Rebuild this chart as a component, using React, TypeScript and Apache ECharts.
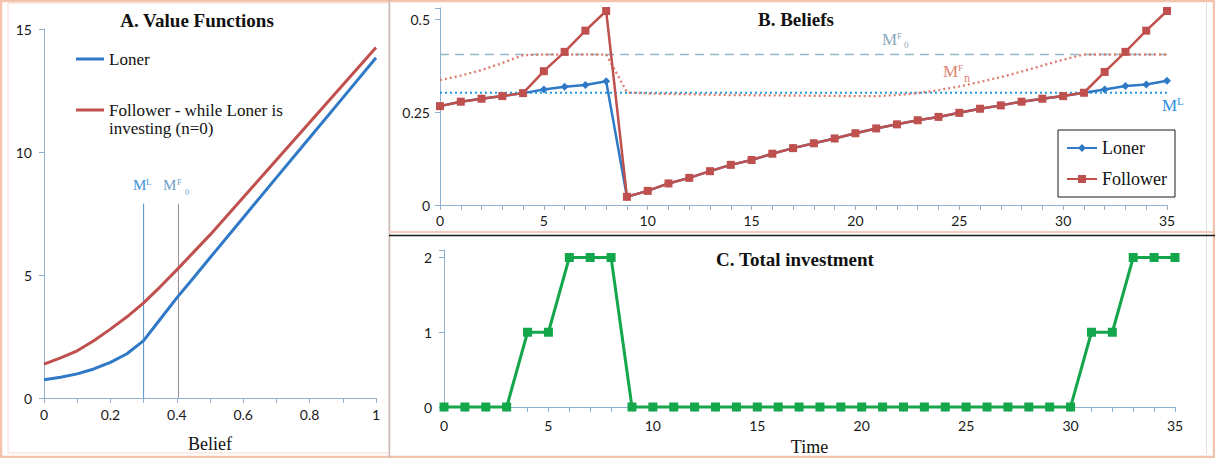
import React, { useEffect, useRef } from "react";
import * as echarts from "echarts";

// ---------- Panel A: value functions ----------
const beliefGrid = [0, 0.05, 0.1, 0.15, 0.2, 0.25, 0.3, 0.35, 0.4, 0.45, 0.5, 0.6, 0.7, 0.8, 0.9, 1];
const lonerValue = [0.74, 0.84, 0.98, 1.18, 1.45, 1.8, 2.33, 3.2, 4.07, 4.88, 5.7, 7.33, 8.96, 10.58, 12.2, 13.83];
const followerValue = [1.38, 1.63, 1.92, 2.33, 2.8, 3.3, 3.87, 4.52, 5.21, 5.92, 6.63, 8.15, 9.67, 11.2, 12.72, 14.25];
const thresholdML = 0.3;
const thresholdMF0 = 0.405;
const thresholdLineTop = 7.9;

// ---------- Panel B: beliefs ----------
const timeSteps = [0, 1, 2, 3, 4, 5, 6, 7, 8, 9, 10, 11, 12, 13, 14, 15, 16, 17, 18, 19, 20, 21, 22, 23, 24, 25, 26, 27, 28, 29, 30, 31, 32, 33, 34, 35];
const lonerBelief = [0.266, 0.278, 0.286, 0.293, 0.301, 0.311, 0.318, 0.323, 0.333, 0.022, 0.038, 0.058, 0.073, 0.091, 0.108, 0.121, 0.138, 0.153, 0.166, 0.179, 0.193, 0.206, 0.217, 0.228, 0.237, 0.248, 0.259, 0.268, 0.278, 0.286, 0.293, 0.302, 0.311, 0.32, 0.324, 0.334];
const followerBelief = [0.266, 0.278, 0.286, 0.293, 0.301, 0.36, 0.412, 0.469, 0.522, 0.022, 0.038, 0.058, 0.073, 0.091, 0.108, 0.121, 0.138, 0.153, 0.166, 0.179, 0.193, 0.206, 0.217, 0.228, 0.237, 0.248, 0.259, 0.268, 0.278, 0.286, 0.293, 0.302, 0.358, 0.412, 0.469, 0.522];
const levelMF0 = 0.405;
const levelML = 0.302;
const mfnTime = [0, 1, 2, 3, 4, 5, 6, 7, 8, 8.5, 9, 10, 12, 14, 16, 18, 20, 21, 22, 23, 24, 25, 26, 27, 28, 29, 30, 31, 32, 33, 34, 35];
const mfnValue = [0.336, 0.348, 0.363, 0.382, 0.403, 0.405, 0.405, 0.405, 0.405, 0.355, 0.303, 0.3, 0.298, 0.296, 0.295, 0.294, 0.293, 0.293, 0.296, 0.301, 0.309, 0.319, 0.331, 0.344, 0.359, 0.375, 0.391, 0.405, 0.405, 0.405, 0.405, 0.405];
const beliefTickLabels = [0, 0.25, 0.5];

// ---------- Panel C: total investment ----------
const totalInvestment = [0, 0, 0, 0, 1, 1, 2, 2, 2, 0, 0, 0, 0, 0, 0, 0, 0, 0, 0, 0, 0, 0, 0, 0, 0, 0, 0, 0, 0, 0, 0, 1, 1, 2, 2, 2];

const serif = '"Liberation Serif", "Times New Roman", serif';
const sans = 'Lato, "Noto Sans", sans-serif';
const BLUE = "#2f79c6";
const RED = "#c0504d";
const GREEN = "#13a64b";
const AXIS = "#8fb0cf";

const axisBase = (gridIndex: number) => ({
  gridIndex,
  type: "value" as const,
  splitLine: { show: false },
  axisLine: { show: true, onZero: false, lineStyle: { color: AXIS, width: 1 } },
  axisTick: { show: true, length: 5, lineStyle: { color: AXIS } },
  axisLabel: { color: "#1a1a1a", fontFamily: sans, fontSize: 14, margin: 9 },
});

function txt(text: string, x: number, y: number, size: number, color: string, extra: any = {}) {
  return {
    type: "text",
    x,
    y,
    silent: true,
    style: { text, fontSize: size, fontFamily: serif, fill: color, verticalAlign: "middle", ...extra },
  };
}

export default function App() {
  const ref = useRef<HTMLDivElement>(null);
  useEffect(() => {
    if (!ref.current) return;
    const chart = echarts.init(ref.current, undefined, { renderer: "svg" });
    const pairs = (xs: number[], ys: number[]) => xs.map((x, i) => [x, ys[i]]);

    chart.setOption({
      animation: false,
      backgroundColor: "#ffffff",
      grid: [
        { left: 44, top: 29, width: 332, height: 372 },
        { left: 440, top: 8, width: 727, height: 197 },
        { left: 444, top: 250, width: 731, height: 157 },
      ],
      xAxis: [
        {
          ...axisBase(0),
          min: 0,
          max: 1,
          interval: 0.1,
          axisLabel: {
            ...axisBase(0).axisLabel,
            formatter: (v: number) => (Math.round(v * 10) % 2 === 0 ? String(Math.round(v * 10) / 10) : ""),
          },
          name: "Belief",
          nameLocation: "middle",
          nameGap: 37,
          nameTextStyle: { fontFamily: serif, fontSize: 18, color: "#111" },
        },
        {
          ...axisBase(1),
          min: 0,
          max: 35,
          interval: 1,
          axisLabel: { ...axisBase(1).axisLabel, margin: 8, formatter: (v: number) => (v % 5 === 0 ? String(v) : "") },
        },
        {
          ...axisBase(2),
          min: 0,
          max: 35,
          interval: 1,
          axisLabel: { ...axisBase(2).axisLabel, margin: 11, formatter: (v: number) => (v % 5 === 0 ? String(v) : "") },
          name: "Time",
          nameLocation: "middle",
          nameGap: 31,
          nameTextStyle: { fontFamily: serif, fontSize: 18, color: "#111" },
        },
      ],
      yAxis: [
        { ...axisBase(0), min: 0, max: 15, interval: 5, axisLabel: { ...axisBase(0).axisLabel, margin: 12 } },
        {
          ...axisBase(1),
          min: 0,
          max: 0.53,
          interval: 0.25,
          axisLabel: {
            ...axisBase(1).axisLabel,
            margin: 10,
            formatter: (v: number) => (beliefTickLabels.some((t) => Math.abs(t - v) < 1e-9) ? String(v) : ""),
          },
        },
        {
          ...axisBase(2),
          min: 0,
          max: 2.1,
          interval: 1,
          axisLabel: {
            ...axisBase(2).axisLabel,
            margin: 12,
            formatter: (v: number) => (Math.abs(v - Math.round(v)) < 1e-9 ? String(v) : ""),
          },
        },
      ],
      legend: [
        {
          data: ["Loner value", "Follower value"],
          formatter: (n: string) => (n === "Loner value" ? "Loner" : "\nFollower - while Loner is\ninvesting (n=0)"),
          orient: "vertical",
          left: 76,
          top: 50,
          icon: "rect",
          itemWidth: 28,
          itemHeight: 3,
          itemGap: 15,
          padding: 0,
          textStyle: { fontFamily: serif, fontSize: 17, color: "#111", lineHeight: 18 },
        },
        {
          data: ["Loner", "Follower"],
          orient: "vertical",
          left: 1058,
          top: 130,
          itemWidth: 30,
          itemHeight: 10,
          itemGap: 13,
          padding: [9, 8, 9, 8],
          borderColor: "#1a1a1a",
          borderWidth: 1,
          textStyle: { fontFamily: serif, fontSize: 18, color: "#111" },
        },
      ],
      series: [
        // Panel A
        {
          name: "ML threshold",
          type: "line",
          xAxisIndex: 0,
          yAxisIndex: 0,
          data: [[thresholdML, 0], [thresholdML, thresholdLineTop]],
          symbol: "none",
          lineStyle: { color: "#4d8fd1", width: 1 },
          silent: true,
        },
        {
          name: "MF0 threshold",
          type: "line",
          xAxisIndex: 0,
          yAxisIndex: 0,
          data: [[thresholdMF0, 0], [thresholdMF0, thresholdLineTop]],
          symbol: "none",
          lineStyle: { color: "#9a8c92", width: 1 },
          silent: true,
        },
        {
          name: "Loner value",
          type: "line",
          xAxisIndex: 0,
          yAxisIndex: 0,
          data: pairs(beliefGrid, lonerValue),
          symbol: "none",
          smooth: false,
          lineStyle: { color: BLUE, width: 3, join: "round" },
          itemStyle: { color: BLUE },
        },
        {
          name: "Follower value",
          type: "line",
          xAxisIndex: 0,
          yAxisIndex: 0,
          data: pairs(beliefGrid, followerValue),
          symbol: "none",
          smooth: false,
          lineStyle: { color: RED, width: 3, join: "round" },
          itemStyle: { color: RED },
        },
        // Panel B
        {
          name: "MF0 level",
          type: "line",
          xAxisIndex: 1,
          yAxisIndex: 1,
          data: [[timeSteps[0], levelMF0], [timeSteps[timeSteps.length - 1], levelMF0]],
          symbol: "none",
          lineStyle: { color: "#93b6c8", width: 1.5, type: [9, 6] },
          silent: true,
        },
        {
          name: "ML level",
          type: "line",
          xAxisIndex: 1,
          yAxisIndex: 1,
          data: [[timeSteps[0], levelML], [timeSteps[timeSteps.length - 1], levelML]],
          symbol: "none",
          lineStyle: { color: "#1f9be3", width: 2.2, type: [2, 3] },
          silent: true,
        },
        {
          name: "MFn level",
          type: "line",
          xAxisIndex: 1,
          yAxisIndex: 1,
          data: pairs(mfnTime, mfnValue),
          symbol: "none",
          lineStyle: { color: "#dd7f70", width: 2.4, type: [2, 3] },
          silent: true,
        },
        {
          name: "Loner",
          type: "line",
          xAxisIndex: 1,
          yAxisIndex: 1,
          data: pairs(timeSteps, lonerBelief),
          symbol: "diamond",
          symbolSize: 8,
          clip: false,
          lineStyle: { color: BLUE, width: 2.5 },
          itemStyle: { color: BLUE },
        },
        {
          name: "Follower",
          type: "line",
          xAxisIndex: 1,
          yAxisIndex: 1,
          data: pairs(timeSteps, followerBelief),
          symbol: "rect",
          symbolSize: 8,
          clip: false,
          lineStyle: { color: RED, width: 2.5 },
          itemStyle: { color: RED },
        },
        // Panel C
        {
          name: "Total investment",
          type: "line",
          xAxisIndex: 2,
          yAxisIndex: 2,
          data: pairs(timeSteps, totalInvestment),
          symbol: "rect",
          symbolSize: 9,
          clip: false,
          lineStyle: { color: GREEN, width: 3 },
          itemStyle: { color: GREEN },
        },
      ],
      graphic: [
        // frames
        { type: "rect", silent: true, z: 100, shape: { x: 1, y: 1, width: 1213, height: 456 }, style: { fill: "none", stroke: "#f3c3ab", lineWidth: 2.5 } },
        { type: "rect", silent: true, z: 100, shape: { x: 8, y: 3, width: 381, height: 450 }, style: { fill: "none", stroke: "#f6d8cb", lineWidth: 1 } },
        { type: "line", silent: true, z: 100, shape: { x1: 389.5, y1: 0, x2: 389.5, y2: 458 }, style: { stroke: "#c9b9b9", lineWidth: 1.5 } },
        { type: "line", silent: true, z: 100, shape: { x1: 1206.5, y1: 3, x2: 1206.5, y2: 454 }, style: { stroke: "#e4dcdc", lineWidth: 1 } },
        { type: "line", silent: true, z: 100, shape: { x1: 389, y1: 232, x2: 1213, y2: 232 }, style: { stroke: "#f3cdbd", lineWidth: 2 } },
        { type: "line", silent: true, z: 100, shape: { x1: 389, y1: 235.5, x2: 1215, y2: 235.5 }, style: { stroke: "#1a1a1a", lineWidth: 1.3 } },
        // titles
        txt("A. Value Functions", 197, 20, 19, "#111", { fontWeight: "bold", align: "center" }),
        txt("B. Beliefs", 796, 19, 19, "#111", { fontWeight: "bold", align: "center" }),
        txt("C. Total investment", 795, 259, 19, "#111", { fontWeight: "bold", align: "center" }),
        // Panel A threshold labels
        txt("M", 133, 185, 15, "#3d8fd6"),
        txt("L", 146, 182, 9, "#3d8fd6"),
        txt("M", 163, 185, 15, "#6c9fcb"),
        txt("F", 177, 182.5, 8, "#6c9fcb"),
        txt("0", 185, 192, 8, "#6c9fcb"),
        // Panel B threshold labels
        txt("M", 882, 39, 17, "#8aa9ba"),
        txt("F", 897, 36, 9, "#8aa9ba"),
        txt("0", 904, 44.5, 9, "#8aa9ba"),
        txt("M", 943, 71, 17, "#e0826e"),
        txt("F", 958, 68, 9, "#e0826e"),
        txt("n", 964, 78, 12, "#e0826e"),
        txt("M", 1162, 105, 17, "#2a8fe0"),
        txt("L", 1177, 101, 11, "#2a8fe0"),
      ],
    });
    return () => chart.dispose();
  }, []);
  return <div ref={ref} style={{ position: "fixed", left: 0, top: 0, width: 1215, height: 458 }} />;
}
